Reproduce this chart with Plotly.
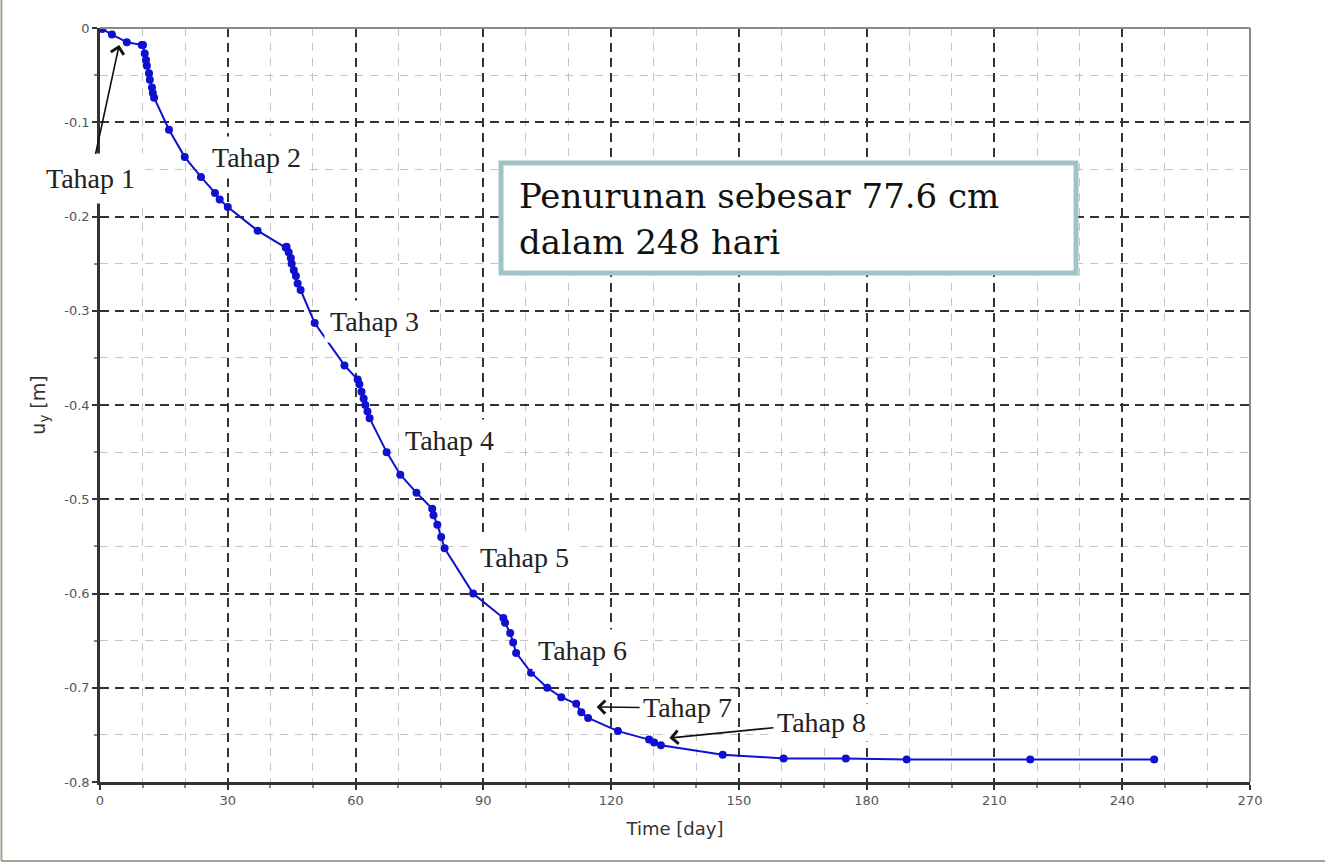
import plotly.graph_objects as go

# ---- data ----
time_day = [0.0, 0.5, 2.8, 6.3, 9.8, 10.1, 10.5, 10.8, 11.0, 11.5, 11.7, 12.2, 12.4, 12.7,
            16.2, 19.9, 23.7, 27.0, 28.1, 30.0, 37.0, 43.6, 43.8, 44.3, 44.8, 45.0, 45.5,
            46.0, 46.4, 47.1, 50.4, 57.4, 60.5, 60.9, 61.4, 61.9, 62.3, 62.8, 63.3, 67.3,
            70.5, 74.3, 78.0, 78.3, 79.2, 80.1, 80.9, 87.6, 94.7, 95.1, 96.3, 97.0, 97.7,
            101.2, 105.0, 108.3, 111.8, 113.0, 114.6, 121.6, 128.9, 130.1, 131.7, 146.2,
            160.5, 175.1, 189.4, 218.4, 247.5]
uy_m = [0.0, -0.001, -0.007, -0.015, -0.018, -0.018, -0.027, -0.034, -0.040, -0.048, -0.055,
        -0.063, -0.069, -0.074, -0.108, -0.137, -0.158, -0.175, -0.182, -0.190, -0.215,
        -0.233, -0.232, -0.238, -0.244, -0.250, -0.257, -0.263, -0.271, -0.278, -0.313,
        -0.358, -0.373, -0.378, -0.386, -0.393, -0.400, -0.407, -0.414, -0.450, -0.474,
        -0.493, -0.510, -0.517, -0.527, -0.540, -0.552, -0.600, -0.626, -0.631, -0.642,
        -0.652, -0.663, -0.684, -0.700, -0.710, -0.717, -0.726, -0.732, -0.746, -0.755,
        -0.758, -0.761, -0.771, -0.775, -0.775, -0.776, -0.776, -0.776]

x_tickvals = [0, 30, 60, 90, 120, 150, 180, 210, 240, 270]
x_ticktext = ["0", "30", "60", "90", "120", "150", "180", "210", "240", "270"]
y_tickvals = [0, -0.1, -0.2, -0.3, -0.4, -0.5, -0.6, -0.7, -0.8]
y_ticktext = ["0", "-0.1", "-0.2", "-0.3", "-0.4", "-0.5", "-0.6", "-0.7", "-0.8"]

# plain stage labels (no arrow)
stage_labels = ["Tahap 2", "Tahap 3", "Tahap 4", "Tahap 5", "Tahap 6"]
stage_label_x = [36.8, 64.4, 82.0, 99.6, 113.2]
stage_label_y = [-0.137, -0.311, -0.438, -0.562, -0.661]
# stage labels with an arrow: arrow head point on the curve
arrow_labels = ["Tahap 1", "Tahap 7", "Tahap 8"]
arrow_head_x = [4.5, 116.6, 133.7]
arrow_head_y = [-0.018, -0.7204, -0.7533]

info_line1 = "Penurunan sebesar 77.6 cm"
info_line2 = "dalam 248 hari"

BLUE = "#1010d0"
TICKFONT = dict(family="DejaVu Sans", size=13, color="#555555")
LABELFONT = dict(family="Liberation Serif", size=28, color="#222222")

fig = go.Figure()
fig.add_trace(go.Scatter(
    x=time_day, y=uy_m, mode="lines+markers",
    line=dict(color=BLUE, width=2),
    marker=dict(color=BLUE, size=8),
    showlegend=False,
))

annotations = []
for t, xx, yy in zip(stage_labels, stage_label_x, stage_label_y):
    annotations.append(dict(
        x=xx, y=yy, xref="x", yref="y", text=t, showarrow=False,
        font=LABELFONT, bgcolor="white", borderpad=5,
        xanchor="center", yanchor="middle",
    ))

# label offsets (pixels) from the arrow head to the label centre
arrow_offsets = [(-29, 134), (91, 1), (152, -15)]
arrow_pads = [9, 3, 3]
for t, xx, yy, (ox, oy), pad in zip(arrow_labels, arrow_head_x, arrow_head_y, arrow_offsets, arrow_pads):
    annotations.append(dict(
        x=xx, y=yy, xref="x", yref="y", text=t, showarrow=True,
        ax=ox, ay=oy, axref="pixel", ayref="pixel",
        arrowhead=4, arrowsize=1.6, arrowwidth=1.6, arrowcolor="#111111", standoff=0,
        font=LABELFONT, bgcolor="white", borderpad=pad,
    ))

# info box text
INFOFONT = dict(family="DejaVu Serif", size=34, color="#111111")
annotations.append(dict(x=0.3626, y=0.7772, xref="paper", yref="paper", text=info_line1,
                        showarrow=False, xanchor="left", yanchor="middle", font=INFOFONT))
annotations.append(dict(x=0.3626, y=0.7162, xref="paper", yref="paper", text=info_line2,
                        showarrow=False, xanchor="left", yanchor="middle", font=INFOFONT))

shapes = [
    # info box
    dict(type="rect", xref="paper", yref="paper", x0=0.3487, x1=0.8487, y0=0.6751, y1=0.8210,
         line=dict(color="#9ec4c8", width=5), fillcolor="white", layer="above"),
    # top and right frame (gray)
    dict(type="line", xref="paper", yref="paper", x0=0, x1=1, y0=1, y1=1,
         line=dict(color="#8a8a8a", width=2)),
    dict(type="line", xref="paper", yref="paper", x0=1, x1=1, y0=0, y1=1,
         line=dict(color="#8a8a8a", width=2)),
    # outer picture border
    dict(type="line", xref="paper", yref="paper", x0=-0.0857, x1=-0.0857, y0=-0.1048, y1=1.04,
         line=dict(color="#a3a394", width=2)),
    dict(type="line", xref="paper", yref="paper", x0=-0.0857, x1=1.07, y0=-0.1048, y1=-0.1048,
         line=dict(color="#a3a394", width=2)),
]

fig.update_layout(
    width=1325, height=863,
    margin=dict(l=100, r=75, t=28, b=81),
    paper_bgcolor="white", plot_bgcolor="white",
    annotations=annotations, shapes=shapes,
    xaxis=dict(
        range=[0, 270], tickvals=x_tickvals, ticktext=x_ticktext,
        showgrid=True, gridcolor="#333333", gridwidth=1.6, griddash="9px,6px",
        showline=True, linecolor="#333333", linewidth=2.5,
        ticks="outside", ticklen=5, tickcolor="#333333", tickwidth=1.5,
        tickfont=TICKFONT, zeroline=False,
        minor=dict(dtick=10, tick0=0, showgrid=True, gridcolor="#c4c4c4", gridwidth=1,
                   griddash="8px,7px", ticks="outside", ticklen=3, tickcolor="#888888"),
        title=dict(text="Time [day]", font=dict(family="DejaVu Sans", size=18, color="#333333"),
                   standoff=16),
    ),
    yaxis=dict(
        range=[-0.8, 0], tickvals=y_tickvals, ticktext=y_ticktext,
        showgrid=True, gridcolor="#333333", gridwidth=1.6, griddash="9px,6px",
        showline=True, linecolor="#333333", linewidth=2.5,
        ticks="outside", ticklen=5, tickcolor="#333333", tickwidth=1.5,
        tickfont=TICKFONT, zeroline=False,
        minor=dict(dtick=0.05, tick0=0, showgrid=True, gridcolor="#c4c4c4", gridwidth=1,
                   griddash="8px,7px", ticks="outside", ticklen=3, tickcolor="#888888"),
        title=dict(text="u<sub>y</sub> [m]", font=dict(family="DejaVu Sans", size=19, color="#333333"),
                   standoff=14),
    ),
)

fig.write_html("out.html", config={"displayModeBar": False},
               post_script="document.body.style.margin='0';")
